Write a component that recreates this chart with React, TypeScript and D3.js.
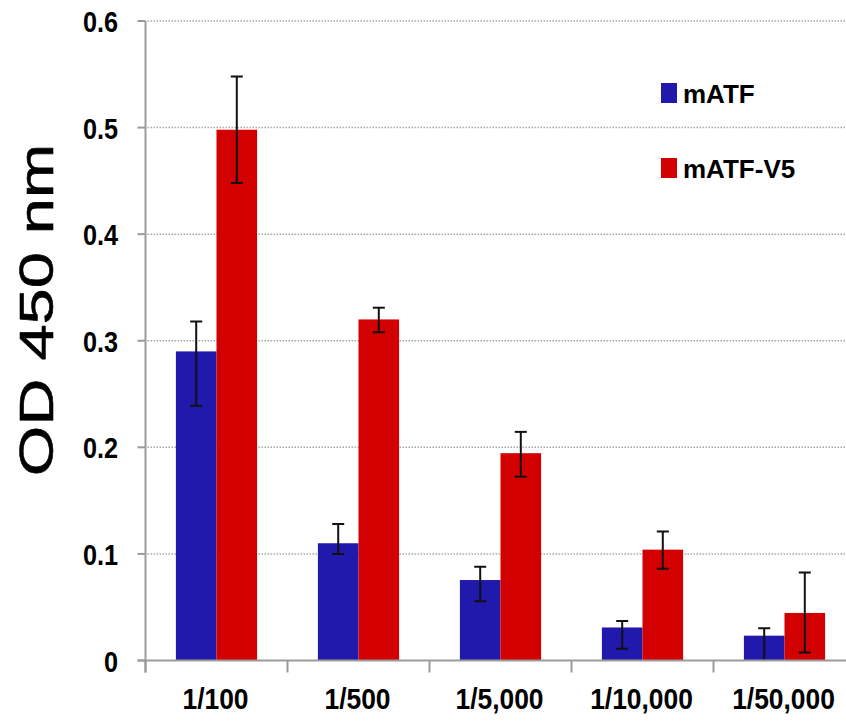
import React from "react";
import * as d3 from "d3";

// Dilution series and measured OD values
const dilutions = ["1/100", "1/500", "1/5,000", "1/10,000", "1/50,000"];
const seriesNames = ["mATF", "mATF-V5"];
const seriesColors = ["#2119ab", "#d20000"];

const mATF = [0.29, 0.11, 0.0755, 0.031, 0.0233];
const mATFErrPlus = [0.028, 0.018, 0.0125, 0.006, 0.007];
const mATFErrMinus = [0.051, 0.01, 0.02, 0.02, 0.03];

const mATFV5 = [0.498, 0.32, 0.1945, 0.104, 0.0446];
const mATFV5ErrPlus = [0.05, 0.011, 0.02, 0.017, 0.038];
const mATFV5ErrMinus = [0.05, 0.012, 0.022, 0.018, 0.037];

const yTicks = [0, 0.1, 0.2, 0.3, 0.4, 0.5, 0.6];
const yTickLabels = ["0", "0.1", "0.2", "0.3", "0.4", "0.5", "0.6"];

const W = 846;
const H = 721;
const FONT = "'Liberation Sans', Arial, Helvetica, sans-serif";

export default function App() {
  const left = 145.5;
  const right = 855.5;
  const top = 21;
  const bottom = 660.5;

  const y = d3.scaleLinear().domain([0, 0.6]).range([bottom, top]);
  const x = d3.scaleBand<string>().domain(dilutions).range([left, right]).padding(0);
  const barW = 40.6;
  const inner = d3
    .scaleBand<string>()
    .domain(seriesNames)
    .range([-barW, barW])
    .padding(0);

  const series = [
    { name: seriesNames[0], values: mATF, plus: mATFErrPlus, minus: mATFErrMinus, color: seriesColors[0] },
    { name: seriesNames[1], values: mATFV5, plus: mATFV5ErrPlus, minus: mATFV5ErrMinus, color: seriesColors[1] },
  ];

  const axisColor = "#9b9b9b";
  const boundaries = dilutions.map((d) => x(d)!).concat([right]);

  return (
    <svg
      width={W}
      height={H}
      style={{ position: "absolute", left: 0, top: 0, background: "#fff" }}
      fontFamily={FONT}
    >
      <defs>
        <clipPath id="plotArea">
          <rect x={left} y={0} width={W - left} height={bottom - 0} />
        </clipPath>
      </defs>
      <rect x={0} y={0} width={W} height={H} fill="#fff" />

      {/* dotted gridlines */}
      {yTicks
        .filter((t) => t > 0)
        .map((t) => (
          <line
            key={"g" + t}
            x1={left + 2}
            x2={W}
            y1={y(t)}
            y2={y(t)}
            stroke="#a8a8a8"
            strokeWidth={1.5}
            strokeDasharray="1.5,1.5"
          />
        ))}

      {/* legend */}
      {series.map((s, i) => (
        <g key={"lg" + i} transform={`translate(661, ${83 + i * 75})`}>
          <rect x={0} y={0} width={16} height={20} fill={s.color} />
          <text x={22} y={20} fontSize={26} fontWeight="bold" fill="#000">
            {s.name}
          </text>
        </g>
      ))}

      {/* bars */}
      {series.map((s) =>
        dilutions.map((d, i) => {
          const bx = x(d)! + x.bandwidth() / 2 + inner(s.name)!;
          return (
            <rect
              key={s.name + d}
              x={bx}
              y={y(s.values[i])}
              width={inner.bandwidth()}
              height={bottom - y(s.values[i])}
              fill={s.color}
            />
          );
        })
      )}

      {/* error bars */}
      <g clipPath="url(#plotArea)" stroke="#111" strokeWidth={2}>
        {series.map((s) =>
          dilutions.map((d, i) => {
            const cx = x(d)! + x.bandwidth() / 2 + inner(s.name)! + inner.bandwidth() / 2;
            const hi = y(s.values[i] + s.plus[i]);
            const lo = y(s.values[i] - s.minus[i]);
            return (
              <g key={"e" + s.name + d}>
                <line x1={cx} x2={cx} y1={hi} y2={lo} />
                <line x1={cx - 6} x2={cx + 6} y1={hi} y2={hi} />
                <line x1={cx - 6} x2={cx + 6} y1={lo} y2={lo} />
              </g>
            );
          })
        )}
      </g>

      {/* axes */}
      <line x1={left} x2={left} y1={top} y2={bottom + 12} stroke={axisColor} strokeWidth={2} />
      <line x1={left - 8} x2={W} y1={bottom} y2={bottom} stroke={axisColor} strokeWidth={2} />
      {yTicks.map((t) => (
        <line key={"yt" + t} x1={left - 8} x2={left} y1={y(t)} y2={y(t)} stroke={axisColor} strokeWidth={2} />
      ))}
      {boundaries.map((b, i) => (
        <line key={"xt" + i} x1={b} x2={b} y1={bottom} y2={bottom + 12} stroke={axisColor} strokeWidth={2} />
      ))}

      {/* y tick labels */}
      {yTicks.map((t, i) => (
        <text
          key={"yl" + t}
          transform={`translate(118, ${y(t) + 11}) scale(0.87, 1)`}
          textAnchor="end"
          fontSize={29}
          fontWeight="bold"
          fill="#000"
        >
          {yTickLabels[i]}
        </text>
      ))}

      {/* category labels */}
      {dilutions.map((d) => (
        <text
          key={"xl" + d}
          transform={`translate(${x(d)! + x.bandwidth() / 2 - 1}, 709) scale(0.88, 1)`}
          textAnchor="middle"
          fontSize={30}
          fontWeight="bold"
          fill="#000"
        >
          {d}
        </text>
      ))}

      {/* y axis title */}
      <text
        transform={`translate(53, 310) scale(0.75, 1) rotate(-90)`}
        textAnchor="middle"
        fontSize={65}
        fill="#000"
        stroke="#000"
        strokeWidth={0.8}
      >
        OD 450 nm
      </text>
    </svg>
  );
}
